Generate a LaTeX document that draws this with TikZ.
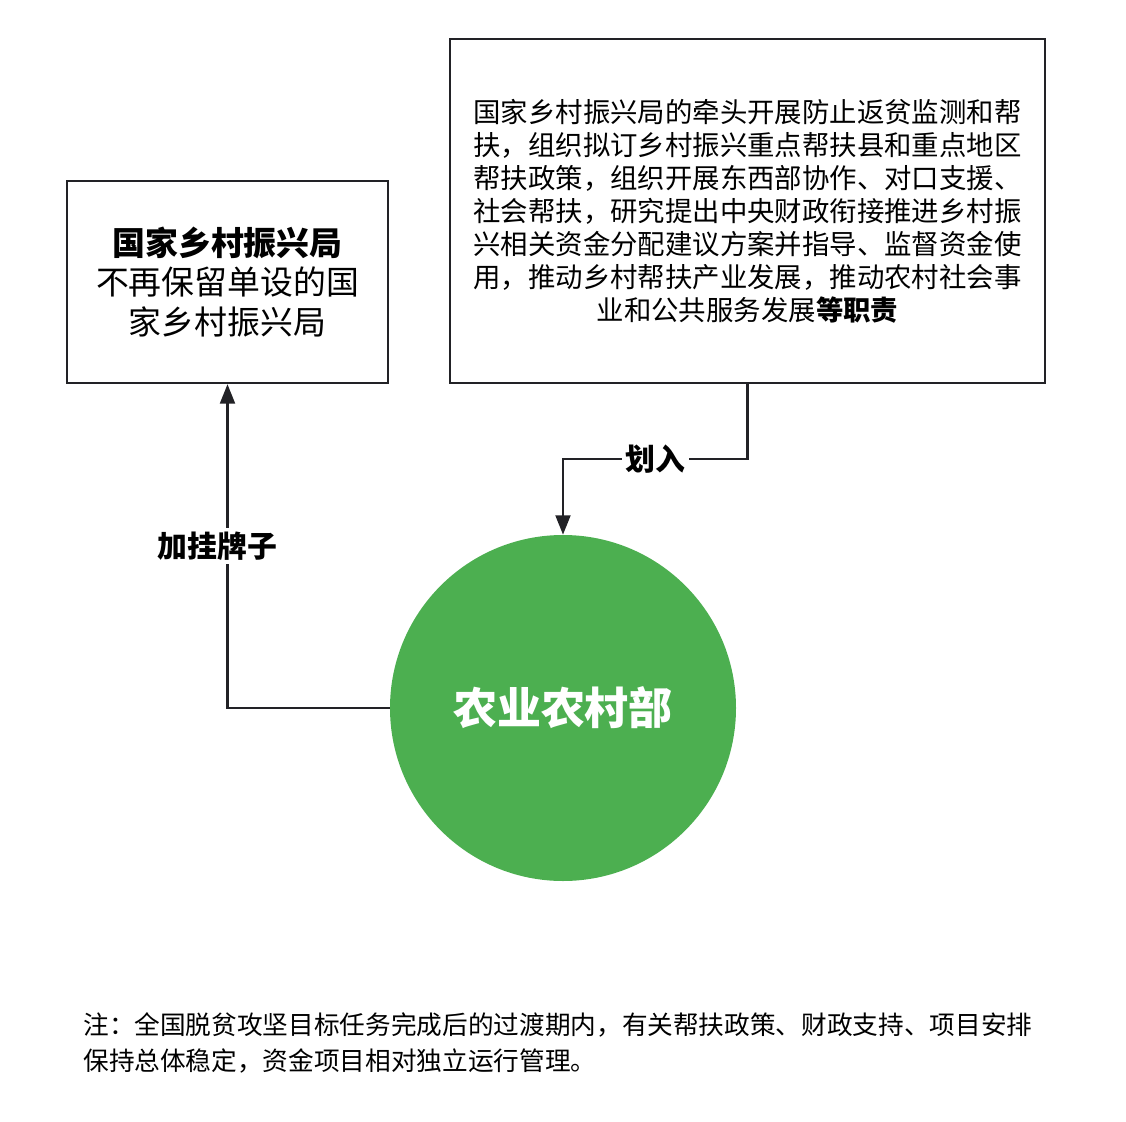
\documentclass[tikz,border=0pt]{standalone}
\usepackage{fontspec}
\setmainfont{Noto Sans CJK SC}
\usetikzlibrary{arrows.meta,positioning}
\definecolor{mogreen}{RGB}{76,175,80}
\definecolor{lineink}{RGB}{34,34,38}

\tikzset{
  box/.style={draw=lineink, line width=1.4pt, minimum width=#1},
  flow/.style={draw=lineink, line width=1.2pt, -{Triangle[length=11pt,width=8.5pt]}},
  tag/.style={fill=white, font=\fontsize{17}{20}\selectfont\bfseries, inner sep=2pt}
}

\begin{document}
\begin{tikzpicture}[x=0.02cm, y=-0.02cm]
	\useasboundingbox (0,0) rectangle (1126,1122);

	\node[box=321*0.02cm, minimum height=202*0.02cm, align=center,
	      font=\fontsize{18.7}{22.7}\selectfont]  (lbox) at (227.5,282)
	      {\textbf{国家乡村振兴局}\\不再保留单设的国\\家乡村振兴局};
	\node[box=595*0.02cm, minimum height=344*0.02cm, align=center,
	      font=\fontsize{15.6}{18.8}\selectfont]  (rbox) at (747.5,211)
	      {国家乡村振兴局的牵头开展防止返贫监测和帮\\
	       扶，组织拟订乡村振兴重点帮扶县和重点地区\\
	       帮扶政策，组织开展东西部协作、对口支援、\\
	       社会帮扶，研究提出中央财政衔接推进乡村振\\
	       兴相关资金分配建议方案并指导、监督资金使\\
	       用，推动乡村帮扶产业发展，推动农村社会事\\
	       业和公共服务发展\textbf{等职责}};
	\node[circle, fill=mogreen, minimum size=346*0.02cm, text=white,
	      font=\fontsize{25}{30}\selectfont\bfseries]  (mara) at (563,708) {农业农村部};

	\node[anchor=north west, align=left, inner sep=0pt,
	      font=\fontsize{14.6}{20.4}\selectfont]  (note) at (83,1012)
	      {注：全国脱贫攻坚目标任务完成后的过渡期内，有关帮扶政策、财政支持、项目安排\\
	       保持总体稳定，资金项目相对独立运行管理。};

	\draw[flow] (rbox.south) -- ++(0,75) -| node[tag, pos=0.25]{划入} (mara.north);
	\draw[flow] (mara.west) -| node[tag, pos=0.75, xshift=-10*0.02cm]{加挂牌子} (lbox.south);
\end{tikzpicture}
\end{document}
